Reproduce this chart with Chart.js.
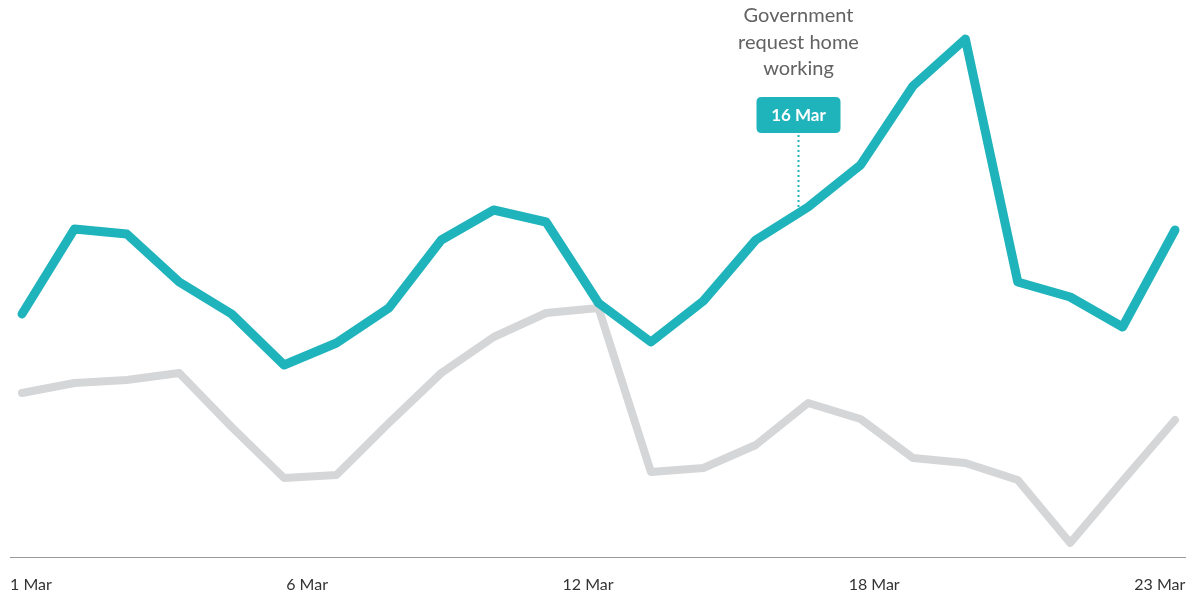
<!DOCTYPE html>
<html>
<head>
<meta charset="utf-8">
<script src="https://cdn.jsdelivr.net/npm/chart.js@4/dist/chart.umd.min.js"></script>
<style>
  html, body { margin: 0; padding: 0; background: #ffffff; }
  #wrap { width: 1195px; height: 594px; position: relative; }
</style>
</head>
<body>
<div id="wrap"><canvas id="c"></canvas></div>
<script>
// ---- data ----
const days = [1,2,3,4,5,6,7,8,9,10,11,12,13,14,15,16,17,18,19,20,21,22,23];
const series2020 = [48.6,65.6,64.6,55,48.6,38.4,42.8,49.8,63.4,69.4,67,50.8,43,51.2,63.4,70,78.4,94.2,103.6,55,52,46,65.4];
const seriesPrior = [32.8,34.8,35.4,36.8,26,15.8,16.4,26.8,36.8,44,48.8,49.8,17,17.8,22.4,30.8,27.6,19.8,18.8,15.4,2.8,15.2,27.4];
const tickLabels = ['1 Mar','6 Mar','12 Mar','18 Mar','23 Mar'];
const tickDays = [1.17, 6.44, 11.8, 17.26, 22.71];
const annotationDay = 15.8;
const annotationLines = ['Government','request home','working'];
const annotationTag = '16 Mar';

const TEAL = '#1fb3bc';
const GREY = '#d5d6d8';

const toPoints = arr => arr.map((v, i) => ({ x: days[i], y: v }));

const annotationPlugin = {
  id: 'homeWorking',
  afterDatasetsDraw(chart) {
    const { ctx, scales } = chart;
    const x = Math.round(scales.x.getPixelForValue(annotationDay)) + 0.5;
    const i = Math.floor(annotationDay) - days[0];
    const f = annotationDay - Math.floor(annotationDay);
    const v = series2020[i] + (series2020[i + 1] - series2020[i]) * f;
    const yLine = scales.y.getPixelForValue(v) - 4;

    ctx.save();
    ctx.fillStyle = '#626262';
    ctx.font = '400 20px Lato, "Open Sans", sans-serif';
    ctx.textAlign = 'center';
    ctx.textBaseline = 'middle';
    annotationLines.forEach((t, k) => ctx.fillText(t, x, 16 + k * 26.5));

    const bw = 84, bh = 36, bx = x - bw / 2, by = 97, r = 5;
    ctx.fillStyle = TEAL;
    ctx.beginPath();
    ctx.moveTo(bx + r, by);
    ctx.lineTo(bx + bw - r, by);
    ctx.quadraticCurveTo(bx + bw, by, bx + bw, by + r);
    ctx.lineTo(bx + bw, by + bh - r);
    ctx.quadraticCurveTo(bx + bw, by + bh, bx + bw - r, by + bh);
    ctx.lineTo(bx + r, by + bh);
    ctx.quadraticCurveTo(bx, by + bh, bx, by + bh - r);
    ctx.lineTo(bx, by + r);
    ctx.quadraticCurveTo(bx, by, bx + r, by);
    ctx.closePath();
    ctx.fill();
    ctx.fillStyle = '#ffffff';
    ctx.font = '700 17px Lato, "Open Sans", sans-serif';
    ctx.fillText(annotationTag, x, by + bh / 2 + 1);

    ctx.strokeStyle = TEAL;
    ctx.lineWidth = 2;
    ctx.setLineDash([2, 3]);
    ctx.beginPath();
    ctx.moveTo(x, by + bh + 2);
    ctx.lineTo(x, yLine);
    ctx.stroke();
    ctx.restore();
  }
};

new Chart(document.getElementById('c'), {
  type: 'line',
  data: {
    datasets: [
      {
        label: '2020',
        data: toPoints(series2020),
        borderColor: TEAL,
        borderWidth: 9,
        borderCapStyle: 'round',
        borderJoinStyle: 'round',
        pointRadius: 0,
        tension: 0,
        fill: false
      },
      {
        label: 'Prior',
        data: toPoints(seriesPrior),
        borderColor: GREY,
        borderWidth: 8,
        borderCapStyle: 'round',
        borderJoinStyle: 'round',
        pointRadius: 0,
        tension: 0,
        fill: false
      }
    ]
  },
  options: {
    responsive: true,
    maintainAspectRatio: false,
    animation: false,
    clip: false,
    layout: { padding: { left: 10, right: 10, top: 7, bottom: 0 } },
    plugins: { legend: { display: false }, tooltip: { enabled: false } },
    scales: {
      x: {
        type: 'linear',
        min: 1 - 12 / 52.41,
        max: 23 + 10 / 52.41,
        grid: { display: false, drawTicks: false },
        border: { display: true, color: '#9a9a9a', width: 1 },
        afterBuildTicks: s => { s.ticks = tickDays.map(v => ({ value: v })); },
        afterFit: s => { s.height = 37; s.paddingLeft = 0; s.paddingRight = 0; },
        ticks: {
          autoSkip: false,
          maxRotation: 0,
          padding: 18,
          color: '#333333',
          font: { family: 'Lato, "Open Sans", sans-serif', size: 16 },
          callback: (val, idx) => tickLabels[idx]
        }
      },
      y: {
        display: false,
        min: 0,
        max: 110
      }
    }
  },
  plugins: [annotationPlugin]
});
</script>
</body>
</html>
